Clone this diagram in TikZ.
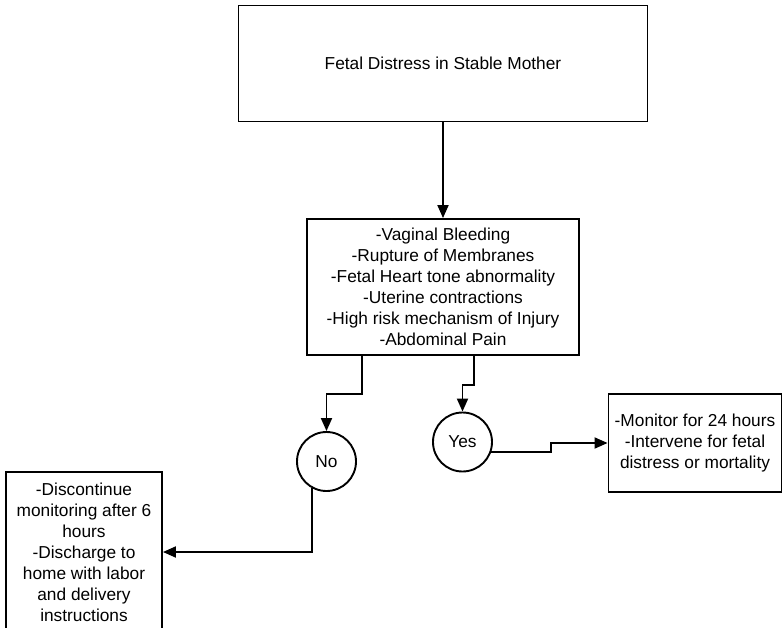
\documentclass[tikz,border=0pt]{standalone}
\usepackage{fontspec}
\setmainfont{Liberation Sans}
\usetikzlibrary{arrows.meta}
\begin{document}
\begin{tikzpicture}[x=1pt,y=-1pt,
  txt/.style={font=\fontsize{17.3}{21}\selectfont, align=center, inner sep=0pt},
  boxnode/.style={txt, draw, line width=1.9pt, rectangle},
  circnode/.style={txt, draw, line width=1.9pt, circle, minimum size=59pt},
  arr/.style={line width=1.9pt, -{Triangle[length=13pt,width=11pt]}}]
\useasboundingbox (0,0) rectangle (782,627);
\node[boxnode, minimum width=409pt, minimum height=116pt] (top) at (443,63.5) {Fetal Distress in Stable Mother};
\node[boxnode, minimum width=272pt, minimum height=136pt] (mid) at (443,287) {-Vaginal Bleeding\\-Rupture of Membranes\\-Fetal Heart tone abnormality\\-Uterine contractions\\-High risk mechanism of Injury\\-Abdominal Pain};
\node[circnode] (no) at (326.5,461.5) {No};
\node[circnode] (yes) at (462.5,442) {Yes};
\node[boxnode, minimum width=173pt, minimum height=98pt] (right) at (695,443) {-Monitor for 24 hours\\-Intervene for fetal\\distress or mortality};
\node[boxnode, minimum width=156pt, minimum height=160pt] (left) at (84,552) {-Discontinue\\monitoring after 6\\hours\\-Discharge to\\home with labor\\and delivery\\instructions};
\draw[arr] (top) -- (mid);
\draw[arr] ([xshift=-81pt]mid.south) -- ++(0,38) -| (no.north);
\draw[arr] ([xshift=31pt]mid.south) -- ++(0,29) -| (yes.north);
\draw[arr] (yes.-20) -- ++(60,0) |- (right.west);
\draw[arr] (no.-119) |- (left.east);
\end{tikzpicture}
\end{document}
